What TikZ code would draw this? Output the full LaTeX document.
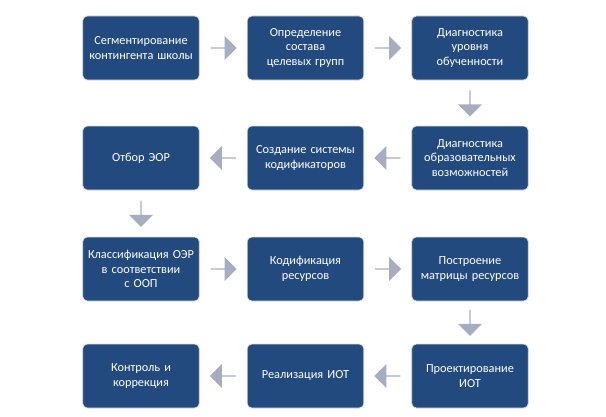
\documentclass[tikz,border=0pt]{standalone}
\usepackage{fontspec}
\setmainfont{Carlito}
\usetikzlibrary{shapes.arrows,positioning,calc}

\begin{document}
\begin{tikzpicture}
    [
        x=0.03cm,y=-0.03cm,
        StepBox/.style={rectangle,rounded corners=4pt,fill={rgb,255:red,35;green,74;blue,126},draw={rgb,255:red,225;green,225;blue,215},line width=0.6pt,minimum width=3.5cm,minimum height=1.92cm,text width=3.2cm,align=center,text=white,font=\fontsize{10.5}{12.5}\selectfont},
        Flow/.style={single arrow,fill={rgb,255:red,166;green,173;blue,192},draw=none,minimum height=0.78cm,minimum width=0.72cm,single arrow head extend=0.12cm,inner sep=0pt}
    ]
    \useasboundingbox (0,0) rectangle (606,417);
    \node[StepBox] (segment) at (141,48)  {Сегментирование контингента школы};
    \node[StepBox] (groups) at (305.5,48)  {Определение состава целевых групп};
    \node[StepBox] (level) at (470,48)  {Диагностика уровня обученности};
    \node[StepBox] (abilities) at (470,158)  {Диагностика образовательных возможностей};
    \node[StepBox] (codes) at (305.5,158)  {Создание системы кодификаторов};
    \node[StepBox] (select) at (141,158)  {Отбор ЭОР};
    \node[StepBox] (classify) at (141,269)  {Классификация ОЭР в соответствии с ООП};
    \node[StepBox] (codify) at (305.5,269)  {Кодификация ресурсов};
    \node[StepBox] (matrix) at (470,269)  {Построение матрицы ресурсов};
    \node[StepBox] (design) at (470,376)  {Проектирование ИОТ};
    \node[StepBox] (realize) at (305.5,376)  {Реализация ИОТ};
    \node[StepBox] (control) at (141,376)  {Контроль и коррекция};

    \node[Flow] at ($(segment)!0.5!(groups)$) {};
    \node[Flow] at ($(groups)!0.5!(level)$) {};
    \node[Flow,rotate=-90] at ($(level)!0.5!(abilities)$) {};
    \node[Flow,rotate=180] at ($(abilities)!0.5!(codes)$) {};
    \node[Flow,rotate=180] at ($(codes)!0.5!(select)$) {};
    \node[Flow,rotate=-90] at ($(select)!0.5!(classify)$) {};
    \node[Flow] at ($(classify)!0.5!(codify)$) {};
    \node[Flow] at ($(codify)!0.5!(matrix)$) {};
    \node[Flow,rotate=-90] at ($(matrix)!0.5!(design)$) {};
    \node[Flow,rotate=180] at ($(design)!0.5!(realize)$) {};
    \node[Flow,rotate=180] at ($(realize)!0.5!(control)$) {};
\end{tikzpicture}
\end{document}
